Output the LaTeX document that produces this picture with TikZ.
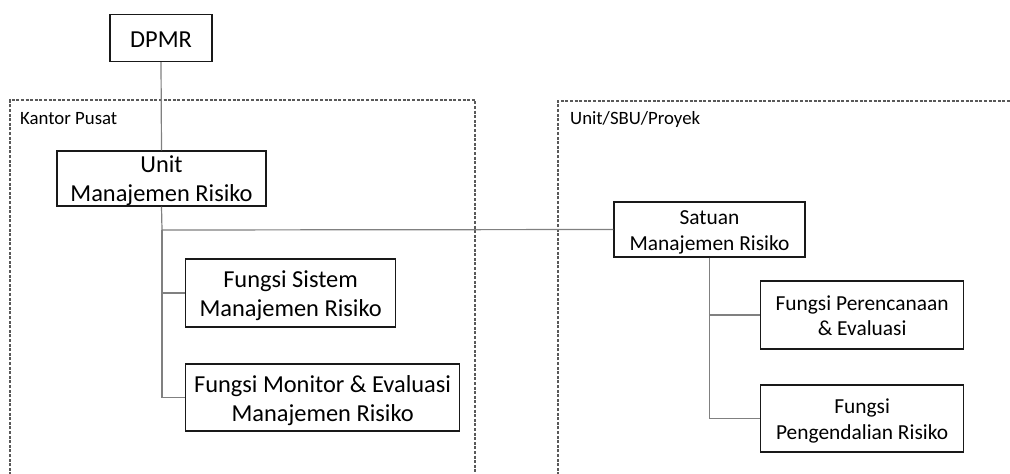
\documentclass[tikz,border=0pt]{standalone}
\usepackage{fontspec}
\setmainfont{Carlito}
% centred lines with fixed top and bottom clearance
\newcommand\stackedlines[4]{\vbox{\halign{\hfil##\hfil\cr
  \rule{0pt}{#1}#3\cr
  #4\rule[-#2]{0pt}{#2}\cr}}}
\newcommand\boxlines[2]{\stackedlines{1em}{0.25em}{#1}{#2}}
\newcommand\tightlines[2]{\stackedlines{0.85em}{0.1em}{#1}{#2}}
\newcommand\boxline[1]{\rule{0pt}{1em}#1\rule[-0.25em]{0pt}{0.25em}}
\begin{document}
\begin{tikzpicture}[x=1pt,y=-1pt,
  box/.style={draw=black!90, line width=1.2pt, fill=white, inner sep=0pt},
  big/.style={font=\fontsize{24.4}{29}\selectfont},
  mid/.style={font=\fontsize{21.4}{25.5}\selectfont},
  link/.style={draw=black!50, line width=1.2pt},
  region/.style={draw=black!65, line width=1.2pt, dash pattern=on 3pt off 1.6pt},
  tag/.style={anchor=base west, inner sep=0pt, font=\fontsize{18.8}{22}\selectfont}]
\useasboundingbox (0,0) rectangle (1010,474);

% dashed regions
\draw[region] (10,480) -- (10,100) -- (475,100) -- (475,480);
\draw[region] (558,480) -- (558,101) -- (1015,101);
\node[tag] (kp) at (20,124) {Kantor Pusat};
\node[tag] (usp) at (570,124) {Unit/SBU/Proyek};

% head office boxes
\node[box, big, minimum width=102pt, minimum height=47pt] (dpmr) at (161,38) {\boxline{DPMR}};
\node[box, big, minimum width=209pt, minimum height=55pt] (umr) at (161.5,178.5) {\tightlines{Unit}{Manajemen Risiko}};
\node[box, big, minimum width=210pt, minimum height=68pt, anchor=west] (fsm) at (185,293) {\boxlines{Fungsi Sistem}{Manajemen Risiko}};
\node[box, big, minimum width=274pt, minimum height=67pt, anchor=west] (fme) at (185,397.5) {\boxlines{Fungsi Monitor \& Evaluasi}{Manajemen Risiko}};

% unit boxes
\node[box, mid, minimum width=191pt, minimum height=55pt] (smr) at (709.5,229.5) {\boxlines{Satuan}{Manajemen Risiko}};
\node[box, mid, minimum width=203pt, minimum height=68pt, anchor=west] (fpe) at (760,315) {\boxlines{Fungsi Perencanaan}{\& Evaluasi}};
\node[box, mid, minimum width=203pt, minimum height=67pt, anchor=west] (fpr) at (760,418.5) {\boxlines{Fungsi}{Pengendalian Risiko}};

% connectors
\coordinate (uj) at (162,230);
\draw[link] (dpmr.south) -- (umr.north);
\draw[link] (umr.south) -- (uj) -- (smr.west);
\draw[link] (uj) |- (fsm.west);
\draw[link] (uj) |- (fme.west);
\draw[link] (smr.south) |- (fpe.west);
\draw[link] (smr.south) |- (fpr.west);
\end{tikzpicture}
\end{document}
